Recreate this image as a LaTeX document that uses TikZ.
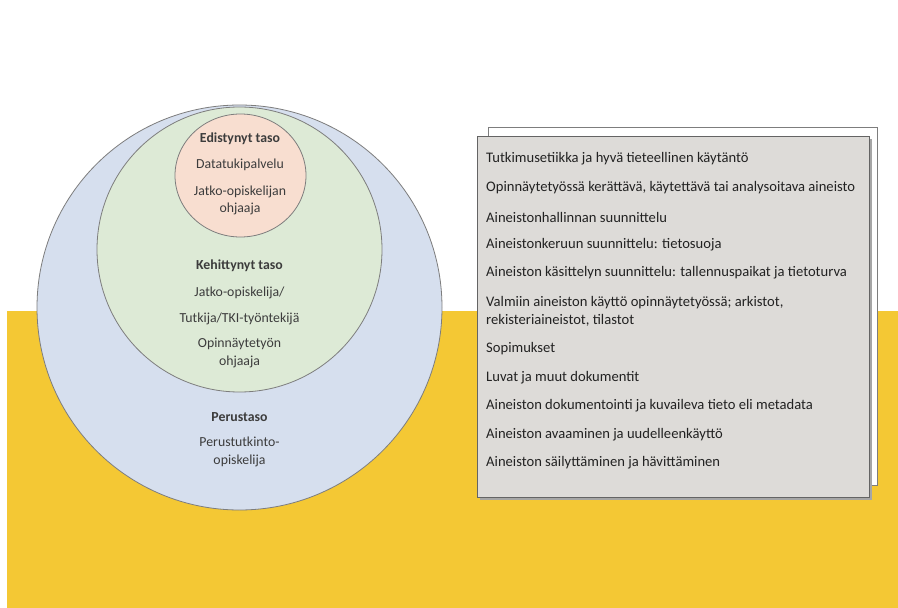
\documentclass[tikz,border=0pt]{standalone}
\usepackage{fontspec}
\setmainfont{Carlito}
\usetikzlibrary{shapes.geometric}
\definecolor{yel}{RGB}{244,200,52}
\definecolor{blu}{RGB}{214,223,238}
\definecolor{grn}{RGB}{221,234,214}
\definecolor{pnk}{RGB}{248,222,208}
\definecolor{boxg}{RGB}{221,219,216}
\definecolor{ctext}{RGB}{60,60,60}
\definecolor{btext}{RGB}{34,34,34}
\definecolor{rim}{RGB}{125,125,125}
\tikzset{
  ring/.style={draw=rim, line width=0.8pt, inner sep=0pt},
  ctxt/.style={text=ctext, font=\fontsize{13.8}{17.5}\selectfont, align=center, inner sep=0pt},
  cbold/.style={ctxt, font=\fontsize{13.8}{17.5}\selectfont\bfseries},
  item/.style={text=btext, font=\fontsize{14.6}{18}\selectfont, align=left, anchor=west, inner sep=0pt},
}
\begin{document}
\begin{tikzpicture}[x=1pt,y=-1pt]
\useasboundingbox (0,0) rectangle (898,608);
\fill[white] (0,0) rectangle (898,608);
\fill[yel] (7,311) rectangle (898,608);
% circles
\node[ring, circle, fill=blu, minimum size=405pt] (c1) at (239.5,307.5) {};
\node[ring, circle, fill=grn, minimum size=285pt] (c2) at (239.5,249.5) {};
\node[ring, ellipse, fill=pnk, minimum width=131pt, minimum height=123pt] (c3) at (240.5,175.5) {};
% pink text
\node[cbold] (p1) at (240,139) {Edistynyt taso};
\node[ctxt] (p2) at (240,165) {Datatukipalvelu};
\node[ctxt] (p3) at (240,200.5) {Jatko-opiskelijan\\ohjaaja};
% green text
\node[cbold] (g1) at (239.5,266) {Kehittynyt taso};
\node[ctxt] (g2) at (239.5,293) {Jatko-opiskelija/};
\node[ctxt] (g3) at (239.5,319) {Tutkija/TKI-työntekijä};
\node[ctxt] (g4) at (239.5,353) {Opinnäytetyön\\ohjaaja};
% blue text
\node[cbold] (b1) at (239.5,417) {Perustaso};
\node[ctxt] (b2) at (239.5,452) {Perustutkinto-\\opiskelija};
% boxes
\node[draw=rim, fill=white, line width=0.8pt, minimum width=389pt, minimum height=358pt, anchor=north west, inner sep=0pt] (back) at (488,127) {};
\fill[black!35] (480,139) rectangle (872,500);
\node[draw=rim!80!black, fill=boxg, line width=0.9pt, minimum width=392pt, minimum height=361pt, anchor=north west, inner sep=0pt] (front) at (477,136) {};
% items
\node[item] (i1) at (486,159) {Tutkimusetiikka ja hyvä tieteellinen käytäntö};
\node[item] (i2) at (486,188) {Opinnäytetyössä kerättävä, käytettävä tai analysoitava aineisto};
\node[item] (i3) at (486,217) {Aineistonhallinnan suunnittelu};
\node[item] (i4) at (486,245) {Aineistonkeruun suunnittelu: tietosuoja};
\node[item] (i5) at (486,273) {Aineiston käsittelyn suunnittelu: tallennuspaikat ja tietoturva};
\node[item] (i6) at (486,311) {Valmiin aineiston käyttö opinnäytetyössä; arkistot,\\rekisteriaineistot, tilastot};
\node[item] (i7) at (486,349) {Sopimukset};
\node[item] (i8) at (486,378) {Luvat ja muut dokumentit};
\node[item] (i9) at (486,406) {Aineiston dokumentointi ja kuvaileva tieto eli metadata};
\node[item] (i10) at (486,435) {Aineiston avaaminen ja uudelleenkäyttö};
\node[item] (i11) at (486,463) {Aineiston säilyttäminen ja hävittäminen};
\end{tikzpicture}
\end{document}
